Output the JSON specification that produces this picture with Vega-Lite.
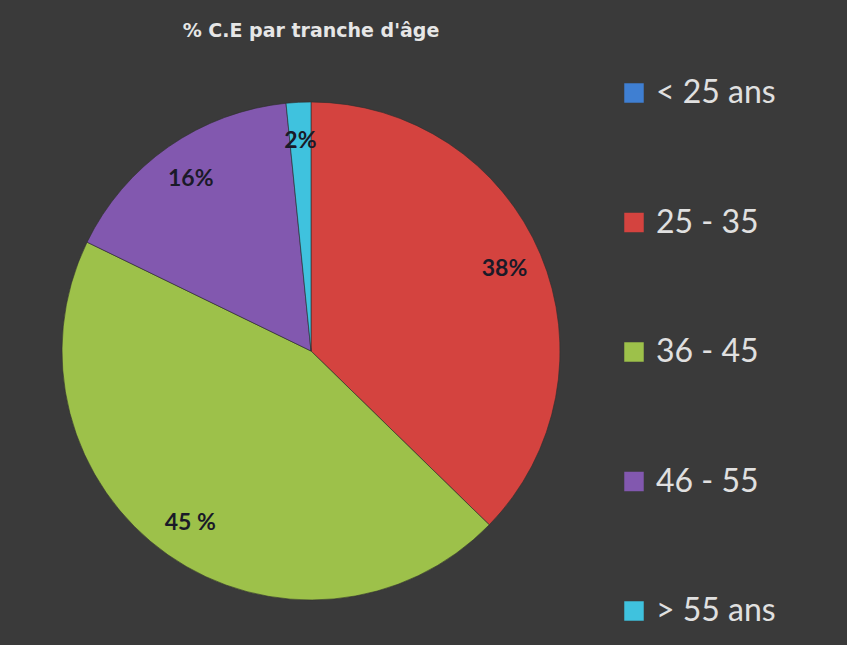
{
  "$schema": "https://vega.github.io/schema/vega-lite/v6.json",
  "width": 500,
  "height": 500,
  "autosize": {"type": "none"},
  "padding": {"left": 61, "top": 101, "right": 286, "bottom": 44},
  "background": "#3a3a3a",
  "title": {
    "text": "% C.E par tranche d'âge",
    "font": "DejaVu Sans",
    "fontSize": 19,
    "fontWeight": "bold",
    "color": "#e6e6e6",
    "anchor": "middle",
    "frame": "group",
    "offset": 36
  },
  "data": {
    "values": [
      {"tranche": "< 25 ans", "pct": 0, "label": "", "ordre": 1},
      {"tranche": "25 - 35", "pct": 37.3, "label": "38%", "ordre": 2},
      {"tranche": "36 - 45", "pct": 44.9, "label": "45 %", "ordre": 3},
      {"tranche": "46 - 55", "pct": 16.2, "label": "16%", "ordre": 4},
      {"tranche": "> 55 ans", "pct": 1.6, "label": "2%", "ordre": 5}
    ]
  },
  "encoding": {
    "theta": {"field": "pct", "type": "quantitative", "stack": true},
    "order": {"field": "ordre", "type": "quantitative", "sort": "ascending"}
  },
  "layer": [
    {
      "mark": {"type": "arc", "outerRadius": 249, "stroke": "#2e2e2e", "strokeWidth": 0.6},
      "encoding": {
        "color": {
          "field": "tranche",
          "type": "nominal",
          "scale": {
            "domain": ["< 25 ans", "25 - 35", "36 - 45", "46 - 55", "> 55 ans"],
            "range": ["#3f7fd2", "#d4433f", "#9dc14a", "#8258af", "#3fc2de"]
          },
          "legend": {
            "title": null,
            "orient": "none",
            "legendX": 557,
            "legendY": -24,
            "symbolType": "square",
            "symbolSize": 380,
            "symbolStrokeWidth": 0,
            "labelFontSize": 32,
            "labelFont": "Lato",
            "labelColor": "#e0e0e0",
            "rowPadding": 97.5,
            "labelOffset": 6,
            "padding": 0
          }
        }
      }
    },
    {
      "transform": [{"filter": "datum.pct > 0"}],
      "mark": {"type": "text", "radius": 210, "font": "Lato", "fontWeight": "bold", "fontSize": 23, "color": "#1a1a28"},
      "encoding": {
        "text": {"field": "label", "type": "nominal"}
      }
    }
  ]
}
